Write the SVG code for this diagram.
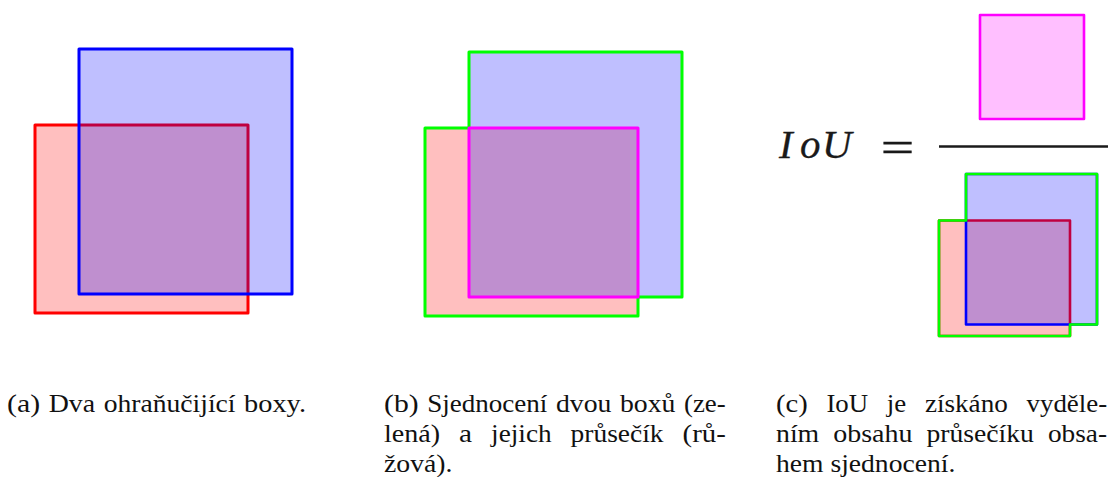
<svg xmlns="http://www.w3.org/2000/svg" width="1120" height="477" viewBox="0 0 1120 477">
<style>
.rf{fill:#ff0000;fill-opacity:0.25}
.bf{fill:#0000ff;fill-opacity:0.25}
.rs{stroke:#ff0000}
.bs{stroke:#0000ff}
.gs{fill:none;stroke:#00ff00}
.ms{fill:none;stroke:#ff00ff}
.w3{stroke-width:3;stroke-linejoin:round}
.w25{stroke-width:2.6;stroke-linejoin:round}
</style>
<rect width="1120" height="477" fill="#ffffff"/>

<g id="panel-a">
  <rect id="a-red" class="rf rs w3" x="35" y="125" width="213" height="188"/>
  <rect id="a-blue" class="bf bs w3" x="79" y="49" width="213" height="245"/>
</g>

<g id="panel-b">
  <rect id="b-red" class="rf" x="425" y="128" width="213" height="188"/>
  <rect id="b-blue" class="bf" x="469" y="52" width="213" height="245"/>
  <path id="b-union" class="gs w3" d="M469,52 H682 V297 H638 V316 H425 V128 H469 Z"/>
  <rect id="b-intersection" class="ms w3" x="469" y="128" width="169" height="169"/>
</g>

<g id="panel-c">
  <rect id="c-intersection" x="980" y="15" width="104" height="104" fill="#ff00ff" fill-opacity="0.25" stroke="#ff00ff" stroke-width="2.6" stroke-linejoin="round"/>
  <line id="c-fraction" x1="939" y1="146.5" x2="1108" y2="146.5" stroke="#1a1a1a" stroke-width="2.6"/>
  <rect id="c-red" class="rf rs w25" x="939" y="220.5" width="131" height="115.5"/>
  <rect id="c-blue" class="bf bs w25" x="966" y="174" width="131" height="150.5"/>
  <path id="c-union" class="gs w25" d="M966,174 H1097 V324.5 H1070 V336 H939 V220.5 H966 Z"/>
  <text id="c-iou" font-family="'Liberation Serif', serif" font-size="41" font-style="italic" fill="#1a1a1a" stroke="#1a1a1a" stroke-width="0.3" y="158"><tspan x="779">I</tspan><tspan x="800">o</tspan><tspan x="822">U</tspan></text>
  <text id="c-eq" font-family="'Liberation Serif', serif" font-size="42" fill="#1a1a1a" stroke="#1a1a1a" stroke-width="0.7" x="881" y="161" textLength="33" lengthAdjust="spacingAndGlyphs">=</text>
</g>

<g id="captions" fill="#111">
  <text id="cap-a" font-family="'Liberation Serif', serif" font-size="26" y="411.5"><tspan x="7" textLength="33.1" lengthAdjust="spacingAndGlyphs">(a)</tspan> <tspan x="48.7" textLength="46.4" lengthAdjust="spacingAndGlyphs">Dva</tspan> <tspan x="103.7" textLength="131.8" lengthAdjust="spacingAndGlyphs">ohraňučijící</tspan> <tspan x="244.1" textLength="61.9" lengthAdjust="spacingAndGlyphs">boxy.</tspan></text>

  <text id="cap-b1" font-family="'Liberation Serif', serif" font-size="26" y="411.5"><tspan x="384" textLength="34.6" lengthAdjust="spacingAndGlyphs">(b)</tspan> <tspan x="427.2" textLength="120.2" lengthAdjust="spacingAndGlyphs">Sjednocení</tspan> <tspan x="556" textLength="55.4" lengthAdjust="spacingAndGlyphs">dvou</tspan> <tspan x="620" textLength="55.4" lengthAdjust="spacingAndGlyphs">boxů</tspan> <tspan x="684" textLength="41.7" lengthAdjust="spacingAndGlyphs">(ze-</tspan></text>
  <text id="cap-b2" font-family="'Liberation Serif', serif" font-size="26" y="441.5"><tspan x="384" textLength="56.1" lengthAdjust="spacingAndGlyphs">lená)</tspan> <tspan x="459.1" textLength="13" lengthAdjust="spacingAndGlyphs">a</tspan> <tspan x="491.1" textLength="60.5" lengthAdjust="spacingAndGlyphs">jejich</tspan> <tspan x="570.6" textLength="93" lengthAdjust="spacingAndGlyphs">průsečík</tspan> <tspan x="682.6" textLength="43.3" lengthAdjust="spacingAndGlyphs">(rů-</tspan></text>
  <text id="cap-b3" font-family="'Liberation Serif', serif" font-size="26" x="384" y="471.5" textLength="68.4" lengthAdjust="spacingAndGlyphs">žová).</text>

  <text id="cap-c1" font-family="'Liberation Serif', serif" font-size="26" y="411.5"><tspan x="776" textLength="31.7" lengthAdjust="spacingAndGlyphs">(c)</tspan> <tspan x="826.4" textLength="41.7" lengthAdjust="spacingAndGlyphs">IoU</tspan> <tspan x="886.8" textLength="19.4" lengthAdjust="spacingAndGlyphs">je</tspan> <tspan x="924.9" textLength="82.9" lengthAdjust="spacingAndGlyphs">získáno</tspan> <tspan x="1026.5" textLength="80.6" lengthAdjust="spacingAndGlyphs">vyděle-</tspan></text>
  <text id="cap-c2" font-family="'Liberation Serif', serif" font-size="26" y="441.5"><tspan x="776" textLength="43.2" lengthAdjust="spacingAndGlyphs">ním</tspan> <tspan x="833.2" textLength="79.3" lengthAdjust="spacingAndGlyphs">obsahu</tspan> <tspan x="926.5" textLength="107.4" lengthAdjust="spacingAndGlyphs">průsečíku</tspan> <tspan x="1047.9" textLength="59.1" lengthAdjust="spacingAndGlyphs">obsa-</tspan></text>
  <text id="cap-c3" font-family="'Liberation Serif', serif" font-size="26" x="776" y="471.5" textLength="179.3" lengthAdjust="spacingAndGlyphs">hem sjednocení.</text>
</g>
</svg>
